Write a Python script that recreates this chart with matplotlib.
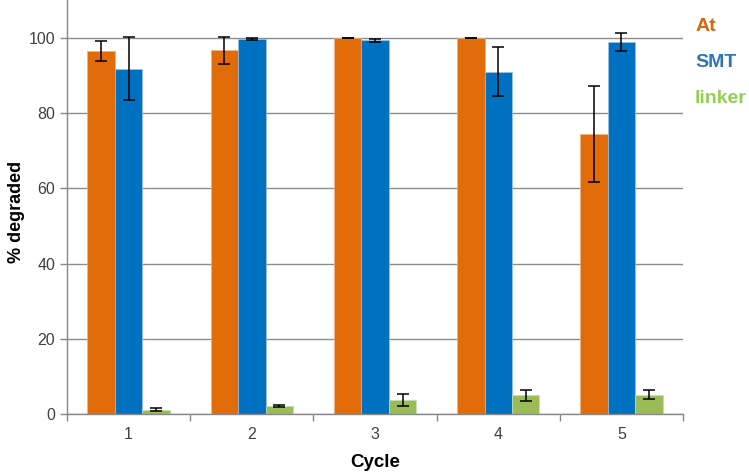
import numpy as np
import matplotlib.pyplot as plt

plt.rcParams['font.family'] = ['Liberation Sans', 'DejaVu Sans']

cycles = ['1', '2', '3', '4', '5']
at_vals = [96.5, 96.6, 100.0, 100.0, 74.5]
at_err = [2.6, 3.5, 0.0, 0.0, 12.8]
smt_vals = [91.8, 99.7, 99.3, 91.0, 98.9]
smt_err = [8.3, 0.3, 0.4, 6.4, 2.4]
linker_vals = [1.3, 2.2, 3.9, 5.1, 5.3]
linker_err = [0.3, 0.3, 1.6, 1.4, 1.3]

fig = plt.figure(figsize=(7.49, 4.73), dpi=100)
ax = fig.add_axes([0.0895, 0.1237, 0.8225, 0.8763])

x = np.arange(len(cycles))
w = 0.223
ekw = dict(ecolor='black', elinewidth=1.1, capsize=4, capthick=1.1)
ax.bar(x - w, at_vals, w, yerr=at_err, color='#E36C0A', edgecolor='#F4B183', linewidth=0.5, error_kw=ekw, zorder=2)
ax.bar(x, smt_vals, w, yerr=smt_err, color='#0070C0', edgecolor='#9DC3E6', linewidth=0.5, error_kw=ekw, zorder=2)
ax.bar(x + w, linker_vals, w, yerr=linker_err, color='#9BBB59', edgecolor='#C5E0B4', linewidth=0.5, error_kw=ekw, zorder=2)

ax.set_xlim(-0.5, len(cycles) - 0.5)
ax.set_ylim(0, 110)
ax.set_yticks([0, 20, 40, 60, 80, 100])
ax.set_xticks(x)
ax.set_xticklabels(cycles)
ax.set_xticks(np.arange(-0.5, len(cycles)), minor=True)
ax.tick_params(axis='x', which='major', length=0, labelsize=11.5, pad=9, colors='#404040')
ax.tick_params(axis='x', which='minor', length=5, color='#888888', width=1)
ax.tick_params(axis='y', length=5, color='#888888', width=1, labelsize=11.5, colors='#404040')
ax.yaxis.grid(True, color='#8c8c8c', linewidth=1)
ax.set_axisbelow(True)

for s in ['top', 'right']:
    ax.spines[s].set_visible(False)
for s in ['left', 'bottom']:
    ax.spines[s].set_color('#888888')
    ax.spines[s].set_linewidth(1)

ax.set_xlabel('Cycle', fontsize=13.5, fontweight='bold', labelpad=9)
ax.set_ylabel('% degraded', fontsize=13, fontweight='bold')
ax.yaxis.set_label_coords(-0.068, 0.489)

fig.text(0.928, 0.945, 'At', color='#D9650C', fontsize=14, fontweight='bold', va='center')
fig.text(0.928, 0.867, 'SMT', color='#2E75B6', fontsize=14, fontweight='bold', va='center')
fig.text(0.928, 0.792, 'linker', color='#92D050', fontsize=14, fontweight='bold', va='center')

fig.savefig('out.png', dpi=100)
